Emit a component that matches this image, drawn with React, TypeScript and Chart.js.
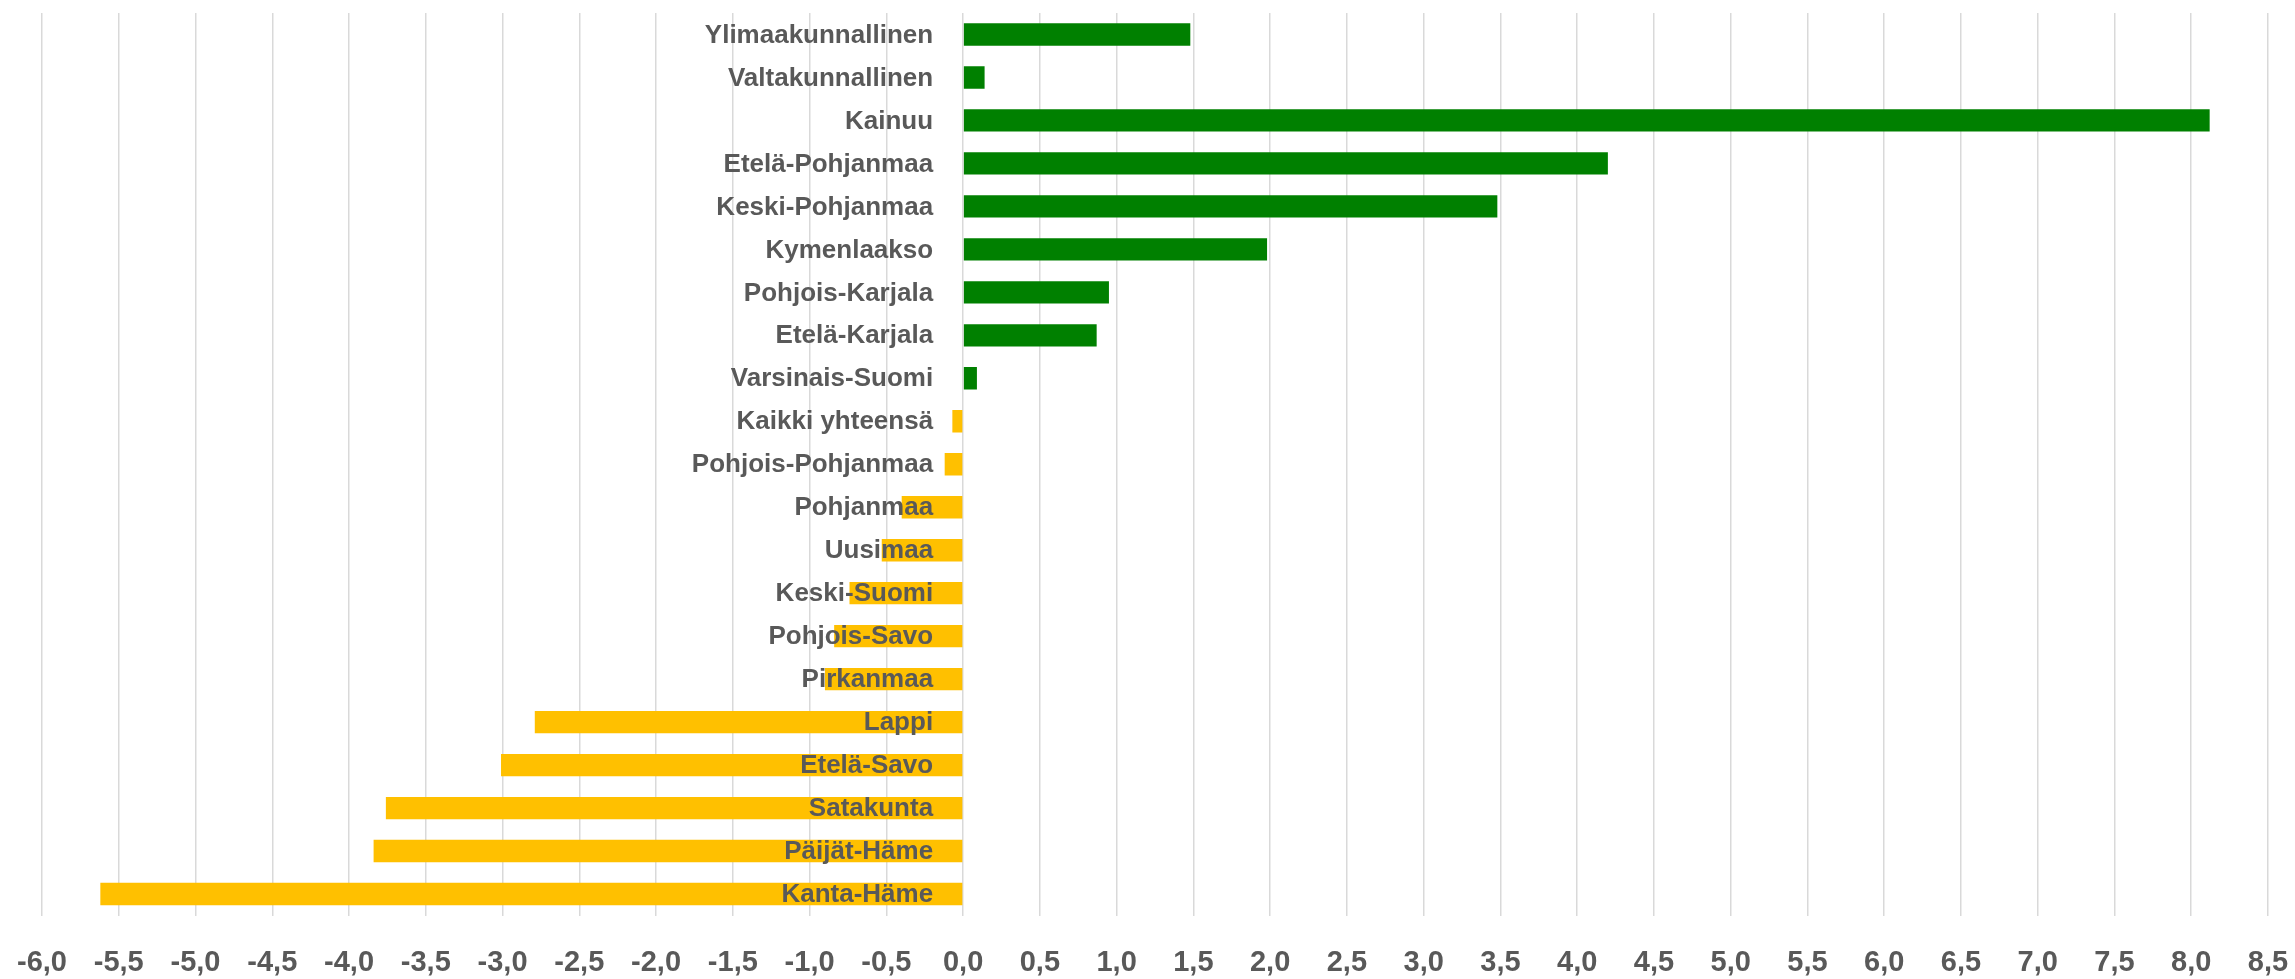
import React, { useEffect, useRef } from "react";
import { Chart, registerables } from "chart.js";

Chart.register(...registerables);

const regions: string[] = [
  "Ylimaakunnallinen",
  "Valtakunnallinen",
  "Kainuu",
  "Etelä-Pohjanmaa",
  "Keski-Pohjanmaa",
  "Kymenlaakso",
  "Pohjois-Karjala",
  "Etelä-Karjala",
  "Varsinais-Suomi",
  "Kaikki yhteensä",
  "Pohjois-Pohjanmaa",
  "Pohjanmaa",
  "Uusimaa",
  "Keski-Suomi",
  "Pohjois-Savo",
  "Pirkanmaa",
  "Lappi",
  "Etelä-Savo",
  "Satakunta",
  "Päijät-Häme",
  "Kanta-Häme",
];

const changes: number[] = [
  1.48, 0.14, 8.12, 4.2, 3.48, 1.98, 0.95, 0.87, 0.09, -0.07, -0.12, -0.4,
  -0.53, -0.74, -0.84, -0.9, -2.79, -3.01, -3.76, -3.84, -5.62,
];

const xMin = -6;
const xMax = 8.5;
const xStep = 0.5;

const POS_COLOR = "#008000";
const NEG_COLOR = "#FFC000";
const TEXT_COLOR = "#595959";
const GRID_COLOR = "#D9D9D9";
const FONT_FAMILY = "'Liberation Sans', Arial, sans-serif";

const categoryLabelPlugin = {
  id: "categoryLabelsAtZero",
  afterDatasetsDraw(chart: any) {
    const { ctx, scales } = chart;
    const xs = scales.x;
    const ys = scales.y;
    const x0 = xs.getPixelForValue(0) - 30;
    ctx.save();
    ctx.font = `bold 26px ${FONT_FAMILY}`;
    ctx.fillStyle = TEXT_COLOR;
    ctx.textAlign = "right";
    ctx.textBaseline = "middle";
    regions.forEach((label, i) => {
      ctx.fillText(label, x0, ys.getPixelForValue(i) + 1);
    });
    ctx.restore();
  },
};

export default function App() {
  const ref = useRef<HTMLCanvasElement | null>(null);

  useEffect(() => {
    if (!ref.current) return;
    const chart = new Chart(ref.current, {
      type: "bar",
      data: {
        labels: regions,
        datasets: [
          {
            data: changes,
            backgroundColor: changes.map((v) => (v >= 0 ? POS_COLOR : NEG_COLOR)),
            borderWidth: 0,
            categoryPercentage: 1,
            barPercentage: 0.52,
          },
        ],
      },
      plugins: [categoryLabelPlugin],
      options: {
        indexAxis: "y",
        responsive: false,
        animation: false,
        devicePixelRatio: 1,
        layout: { padding: { left: 42, right: 27, top: 13, bottom: 0 } },
        plugins: {
          legend: { display: false },
          tooltip: { enabled: false },
        },
        scales: {
          x: {
            type: "linear",
            min: xMin,
            max: xMax,
            position: "bottom",
            border: { display: false },
            grid: {
              color: GRID_COLOR,
              lineWidth: 1.5,
              drawTicks: false,
            },
            ticks: {
              stepSize: xStep,
              padding: 30,
              color: TEXT_COLOR,
              font: { family: FONT_FAMILY, size: 29, weight: "bold" },
              maxRotation: 0,
              autoSkip: false,
              callback: (v: any) => Number(v).toFixed(1).replace(".", ","),
            },
            afterFit: (scale: any) => {
              scale.height = 63.5;
              scale.paddingLeft = 0;
              scale.paddingRight = 0;
            },
          },
          y: {
            type: "category",
            position: { x: 0 } as any,
            border: { display: false },
            grid: { display: false, drawTicks: false },
            ticks: { display: false },
            afterFit: (scale: any) => {
              scale.paddingTop = 0;
              scale.paddingBottom = 0;
            },
          },
        },
      },
    });
    return () => chart.destroy();
  }, []);

  return (
    <div style={{ position: "absolute", left: 0, top: 0, width: 2295, height: 979, background: "#fff" }}>
      <canvas ref={ref} width={2295} height={979} style={{ display: "block" }} />
    </div>
  );
}
